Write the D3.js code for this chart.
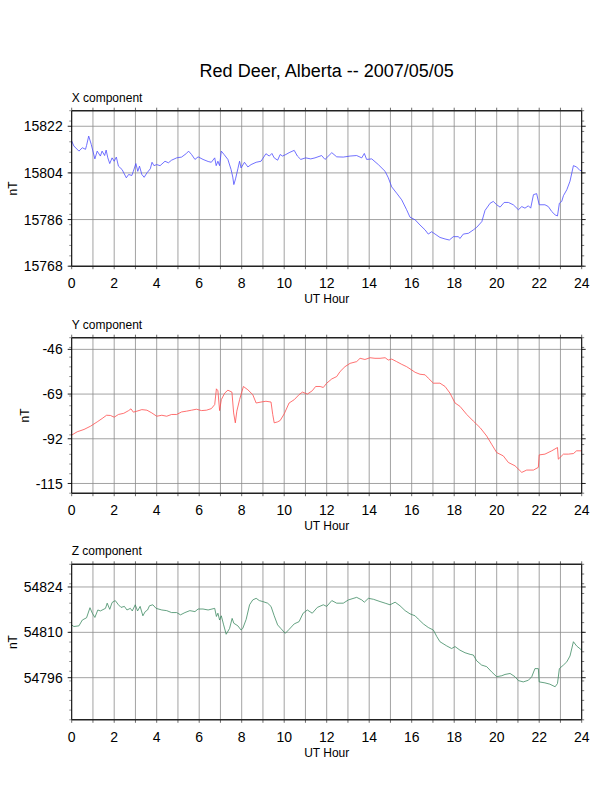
<!DOCTYPE html>
<html>
<head>
<meta charset="utf-8">
<script src="https://cdn.jsdelivr.net/npm/d3@7"></script>
<style>
  html, body { margin: 0; padding: 0; background: #fff; }
  svg { display: block; font-family: "Liberation Sans", Arial, Helvetica, sans-serif; }
</style>
</head>
<body>
<svg id="chart" width="612" height="792"></svg>
<script>
const title = "Red Deer, Alberta -- 2007/05/05";
const hourTicks = [0, 2, 4, 6, 8, 10, 12, 14, 16, 18, 20, 22, 24];

// X component
const xHours = [0,0.1,0.34,0.5,0.65,0.7,0.8,0.92,1.09,1.2,1.35,1.43,1.55,1.62,1.7,1.79,1.9,2.0,2.1,2.2,2.37,2.57,2.68,2.83,2.9,3.02,3.11,3.19,3.3,3.41,3.54,3.7,3.78,3.87,4.0,4.16,4.39,4.55,4.7,4.94,5.17,5.4,5.5,5.64,5.8,5.95,6.18,6.42,6.57,6.73,6.8,6.88,6.96,7.04,7.17,7.35,7.5,7.58,7.63,7.71,7.82,7.9,7.97,8.13,8.29,8.44,8.68,8.91,9.14,9.3,9.42,9.53,9.69,9.81,9.92,10.08,10.23,10.47,10.62,10.78,11.01,11.25,11.45,11.76,11.92,12.24,12.47,12.78,13.1,13.41,13.65,13.77,13.88,14.12,14.43,14.75,14.9,15.06,15.29,15.53,15.76,15.92,16.16,16.39,16.63,16.78,16.94,17.1,17.33,17.57,17.77,17.96,18.2,18.27,18.43,18.67,18.9,19.06,19.3,19.45,19.69,19.84,20.0,20.16,20.35,20.55,20.78,21.02,21.18,21.33,21.49,21.6,21.73,21.88,22.0,22.27,22.43,22.59,22.75,22.86,22.95,23.06,23.14,23.3,23.45,23.61,23.76,23.92,24.0];
const xValues = [15816.3,15814.4,15812.4,15813.7,15813.1,15814.6,15818.2,15815.0,15809.4,15812.4,15810.5,15812.4,15810.7,15812.8,15809.8,15807.6,15809.8,15808.5,15810.1,15806.6,15805.3,15802.1,15803.4,15803.0,15804.6,15807.6,15804.6,15806.6,15803.4,15802.3,15804.0,15805.6,15808.1,15806.8,15807.2,15806.8,15808.5,15807.9,15808.9,15809.8,15810.1,15811.5,15812.4,15811.1,15809.2,15810.2,15809.2,15808.4,15808.1,15809.8,15806.8,15808.5,15806.8,15812.4,15811.1,15809.2,15805.3,15802.4,15799.5,15801.7,15805.6,15808.5,15805.9,15808.1,15806.3,15807.2,15808.1,15808.5,15811.4,15810.5,15811.5,15809.8,15808.9,15811.1,15810.5,15811.1,15811.8,15812.7,15810.5,15809.2,15809.8,15809.4,15809.8,15810.7,15809.2,15811.8,15810.2,15810.1,15810.5,15810.7,15809.8,15811.5,15809.2,15809.4,15807.2,15804.6,15802.1,15798.6,15796.2,15793.6,15789.8,15786.9,15785.9,15783.9,15782.0,15780.4,15781.3,15780.4,15779.1,15778.5,15778.1,15779.4,15779.4,15778.7,15780.4,15780.7,15782.0,15783.0,15785.2,15789.5,15792.3,15793.0,15791.7,15790.8,15792.6,15792.6,15791.7,15789.8,15791.0,15790.4,15791.3,15790.4,15795.6,15796.0,15791.7,15791.7,15791.0,15789.1,15787.8,15787.4,15792.3,15793.0,15795.2,15797.5,15800.8,15806.8,15806.3,15804.9,15805.0];

// Y component
const yHours = [0,0.26,0.58,0.89,1.2,1.43,1.64,1.82,2.0,2.2,2.45,2.68,2.79,2.9,3.07,3.3,3.54,3.77,4.0,4.24,4.47,4.7,4.94,5.17,5.4,5.64,5.87,6.11,6.34,6.57,6.73,6.81,6.88,6.96,7.04,7.2,7.35,7.54,7.62,7.7,7.77,7.9,8.08,8.29,8.52,8.68,8.91,9.14,9.38,9.46,9.53,9.69,9.81,10.0,10.23,10.47,10.7,10.86,11.09,11.32,11.48,11.69,11.84,12.0,12.24,12.47,12.63,12.86,13.1,13.41,13.57,13.8,14.04,14.27,14.51,14.75,14.9,15.06,15.29,15.53,15.76,16.0,16.16,16.39,16.63,16.78,17.02,17.33,17.57,17.8,18.04,18.27,18.59,18.9,19.22,19.53,19.76,20.0,20.31,20.55,20.86,21.18,21.41,21.73,21.96,22.0,22.27,22.59,22.86,22.9,23.14,23.37,23.61,23.76,24.0];
const yValues = [-90.1,-88.4,-87.2,-85.5,-83.3,-81.6,-79.9,-80.0,-80.9,-79.5,-78.9,-77.5,-76.6,-78.3,-77.8,-77.0,-77.3,-78.7,-80.4,-79.9,-80.4,-79.5,-79.5,-78.2,-77.8,-77.3,-76.8,-77.5,-77.3,-76.5,-74.4,-66.3,-67.3,-77.5,-71.9,-68.5,-67.0,-68.0,-78.7,-83.8,-77.8,-71.9,-65.1,-66.8,-69.3,-73.6,-73.1,-72.7,-73.1,-79.5,-83.8,-83.3,-82.6,-79.2,-73.6,-71.9,-69.3,-68.0,-69.0,-67.3,-65.1,-65.1,-65.6,-63.4,-61.2,-60.0,-57.4,-54.9,-53.2,-52.3,-50.6,-51.2,-50.3,-50.6,-50.6,-50.3,-51.5,-51.0,-52.3,-53.7,-54.9,-56.6,-57.8,-58.8,-59.1,-60.8,-63.4,-63.4,-65.1,-68.5,-73.6,-75.3,-79.5,-82.9,-86.3,-90.6,-94.8,-99.1,-100.8,-104.2,-105.9,-109.3,-108.1,-108.1,-106.7,-100.3,-99.9,-98.2,-96.5,-102.5,-99.9,-99.9,-99.6,-98.2,-98.2];

// Z component
const zHours = [0,0.1,0.34,0.5,0.7,0.86,0.97,1.09,1.23,1.35,1.59,1.67,1.79,1.9,2.05,2.2,2.32,2.48,2.6,2.76,2.85,2.99,3.1,3.22,3.35,3.46,3.57,3.66,3.82,3.97,4.24,4.47,4.7,4.94,5.12,5.33,5.56,5.8,5.95,6.18,6.42,6.73,6.81,6.88,6.96,7.04,7.15,7.27,7.43,7.55,7.63,7.82,7.97,8.05,8.21,8.37,8.52,8.68,8.83,8.99,9.22,9.38,9.53,9.69,9.84,10.05,10.23,10.47,10.7,10.89,11.09,11.32,11.56,11.84,12.0,12.24,12.47,12.78,13.02,13.41,13.65,13.77,13.96,14.2,14.51,14.75,14.98,15.22,15.45,15.69,15.92,16.16,16.31,16.55,16.78,17.02,17.18,17.33,17.65,17.88,18.04,18.27,18.51,18.75,18.9,19.06,19.29,19.53,19.76,20.0,20.24,20.39,20.63,20.86,21.02,21.25,21.49,21.65,21.8,21.96,22.0,22.27,22.5,22.75,22.86,22.95,23.14,23.3,23.45,23.61,23.76,24.0];
const zValues = [54812.3,54811.8,54812.0,54813.8,54814.5,54817.6,54815.9,54814.6,54816.9,54816.6,54817.4,54819.0,54817.1,54819.2,54819.8,54818.5,54817.7,54818.0,54816.9,54817.4,54816.6,54818.5,54816.6,54818.0,54815.1,54816.4,54816.9,54818.2,54818.5,54817.4,54816.9,54816.7,54816.1,54816.1,54815.4,54816.1,54816.7,54816.4,54817.2,54817.2,54816.9,54817.4,54814.9,54815.9,54813.8,54815.1,54812.3,54809.4,54811.2,54814.3,54812.8,54812.0,54810.7,54811.2,54814.0,54818.5,54820.0,54820.5,54819.8,54819.5,54819.0,54818.0,54815.1,54812.3,54811.2,54809.7,54810.9,54812.6,54813.3,54815.9,54816.9,54815.9,54817.7,54818.5,54818.0,54819.8,54819.0,54819.0,54820.0,54820.8,54820.0,54819.3,54820.5,54820.2,54819.5,54819.0,54818.5,54819.3,54818.2,54816.7,54815.7,54815.1,54814.1,54812.6,54811.5,54810.7,54808.7,54807.1,54805.8,54805.0,54805.6,54804.5,54803.7,54803.2,54803.0,54801.2,54799.9,54799.4,54797.8,54796.3,54796.6,54797.0,54797.3,54796.3,54795.1,54794.7,54795.2,54796.3,54798.8,54798.8,54794.7,54794.4,54794.0,54793.2,54794.2,54798.8,54799.9,54800.9,54802.7,54807.1,54805.8,54804.5];

const xTicks = [15768, 15786, 15804, 15822];
const yTicks = [-115, -92, -69, -46];
const zTicks = [54796, 54810, 54824];

const panels = [
  { label: "X component", hours: xHours, values: xValues, domain: [15768, 15828], ticks: xTicks, minorStep: 4, color: "#4d4dff", top: 110.7, nTx: 16.5 },
  { label: "Y component", hours: yHours, values: yValues, domain: [-120, -40], ticks: yTicks, minorStep: 5, color: "#ff4d4d", top: 337.7, nTx: 28.5 },
  { label: "Z component", hours: zHours, values: zValues, domain: [54783, 54831], ticks: zTicks, minorStep: 3, color: "#3d8a62", top: 564.3, nTx: 16.5 }
];

const svg = d3.select("#chart");
const left = 71.7, right = 581.7, height = 155.5;

svg.append("text")
  .attr("x", (left + right) / 2).attr("y", 77)
  .attr("text-anchor", "middle").attr("font-size", 18).attr("fill", "#000")
  .text(title);

panels.forEach(p => {
  const g = svg.append("g");
  const bottom = p.top + height;
  const x = d3.scaleLinear().domain([0, 24]).range([left, right]);
  const y = d3.scaleLinear().domain(p.domain).range([bottom, p.top]);
  const hours = d3.range(0, 25, 1);

  // grid
  g.append("g").selectAll("line").data(hours.slice(1, -1)).join("line")
    .attr("x1", d => x(d)).attr("x2", d => x(d))
    .attr("y1", p.top).attr("y2", bottom)
    .attr("stroke", "#8c8c8c").attr("stroke-width", 0.8);
  g.append("g").selectAll("line").data(p.ticks.filter(t => t > p.domain[0] && t < p.domain[1])).join("line")
    .attr("x1", left).attr("x2", right)
    .attr("y1", d => y(d)).attr("y2", d => y(d))
    .attr("stroke", "#8c8c8c").attr("stroke-width", 0.8);

  // hour ticks (top and bottom, outward)
  g.append("g").selectAll("line").data(hours).join("line")
    .attr("x1", d => x(d)).attr("x2", d => x(d))
    .attr("y1", p.top).attr("y2", p.top - 3)
    .attr("stroke", "#444").attr("stroke-width", 0.8);
  g.append("g").selectAll("line").data(hours).join("line")
    .attr("x1", d => x(d)).attr("x2", d => x(d))
    .attr("y1", bottom).attr("y2", bottom + 3)
    .attr("stroke", "#444").attr("stroke-width", 0.8);

  // minor y ticks both sides
  const minors = d3.range(p.domain[0], p.domain[1] + 0.001, p.minorStep);
  g.append("g").selectAll("line").data(minors).join("line")
    .attr("x1", left).attr("x2", left - 2.5)
    .attr("y1", d => y(d)).attr("y2", d => y(d))
    .attr("stroke", "#777").attr("stroke-width", 0.8);
  g.append("g").selectAll("line").data(minors).join("line")
    .attr("x1", right).attr("x2", right + 2.5)
    .attr("y1", d => y(d)).attr("y2", d => y(d))
    .attr("stroke", "#555").attr("stroke-width", 0.8);
  // major y ticks
  g.append("g").selectAll("line").data(p.ticks).join("line")
    .attr("x1", left).attr("x2", left - 4)
    .attr("y1", d => y(d)).attr("y2", d => y(d))
    .attr("stroke", "#222").attr("stroke-width", 1);
  g.append("g").selectAll("line").data(p.ticks).join("line")
    .attr("x1", right).attr("x2", right + 4)
    .attr("y1", d => y(d)).attr("y2", d => y(d))
    .attr("stroke", "#222").attr("stroke-width", 1);

  // data line
  const pts = p.hours.map((h, i) => [h, p.values[i]]);
  g.append("path")
    .datum(pts)
    .attr("d", d3.line().x(d => x(d[0])).y(d => y(d[1])))
    .attr("fill", "none").attr("stroke", p.color).attr("stroke-width", 0.8)
    .attr("stroke-linejoin", "round");

  // frame
  g.append("line").attr("x1", left).attr("x2", left).attr("y1", p.top).attr("y2", bottom)
    .attr("stroke", "#000").attr("stroke-width", 1.1);
  g.append("line").attr("x1", right).attr("x2", right).attr("y1", p.top).attr("y2", bottom)
    .attr("stroke", "#000").attr("stroke-width", 1.1);
  g.append("line").attr("x1", left).attr("x2", right).attr("y1", p.top).attr("y2", p.top)
    .attr("stroke", "#222").attr("stroke-width", 1.6);
  g.append("line").attr("x1", left).attr("x2", right).attr("y1", bottom).attr("y2", bottom)
    .attr("stroke", "#222").attr("stroke-width", 1.6);

  // y tick labels
  g.append("g").selectAll("text").data(p.ticks).join("text")
    .attr("x", left - 9).attr("y", d => y(d)).attr("dy", "0.36em")
    .attr("text-anchor", "end").attr("font-size", 14).attr("fill", "#000")
    .text(d => d);

  // x tick labels
  g.append("g").selectAll("text").data(hourTicks).join("text")
    .attr("x", d => x(d)).attr("y", bottom + 21.8)
    .attr("text-anchor", "middle").attr("font-size", 14).attr("fill", "#000")
    .text(d => d);

  // axis titles
  g.append("text").attr("x", (left + right) / 2).attr("y", bottom + 36.8)
    .attr("text-anchor", "middle").attr("font-size", 12).attr("fill", "#000")
    .text("UT Hour");
  g.append("text").attr("transform", `translate(${p.nTx},${(p.top + bottom) / 2}) rotate(-90)`)
    .attr("text-anchor", "middle").attr("font-size", 12).attr("fill", "#000")
    .text("nT");
  g.append("text").attr("x", left).attr("y", p.top - 9.2)
    .attr("font-size", 12).attr("fill", "#000")
    .text(p.label);
});
</script>
</body>
</html>
